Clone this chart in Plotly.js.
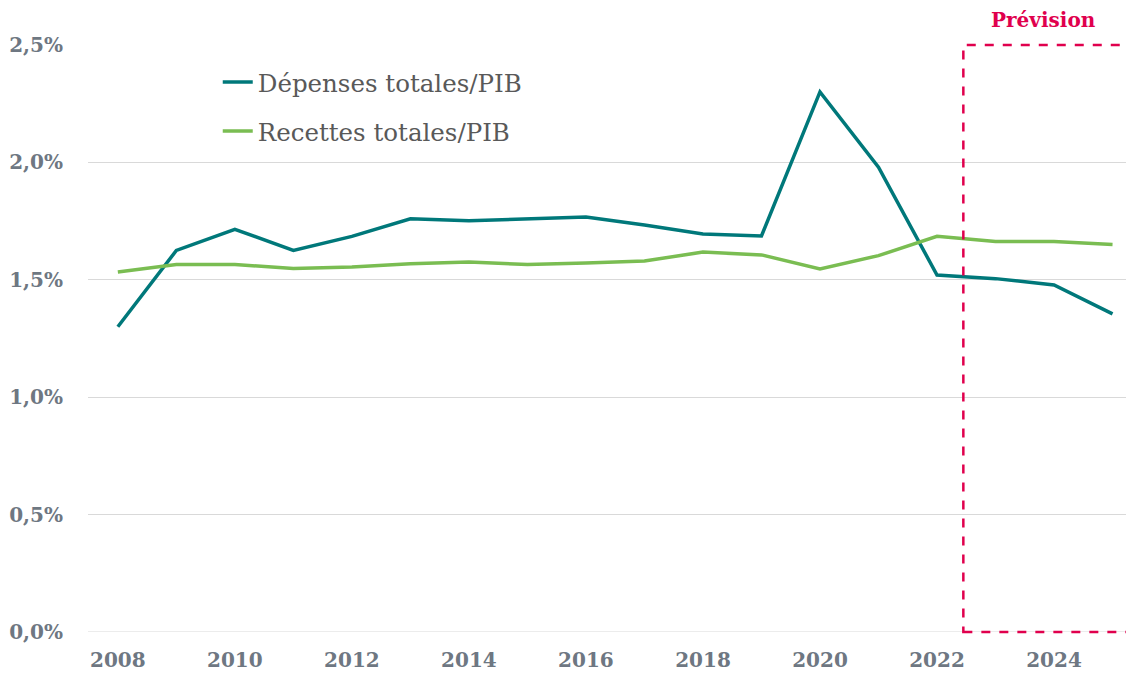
<!DOCTYPE html>
<html>
<head>
<meta charset="utf-8">
<script src="https://cdn.plot.ly/plotly-3.0.1.min.js"></script>
<style>html,body{margin:0;padding:0;background:#fff;}#chart{width:1126px;height:676px;}</style>
</head>
<body>
<div id="chart"></div>
<script>
const years = [2008,2009,2010,2011,2012,2013,2014,2015,2016,2017,2018,2019,2020,2021,2022,2023,2024,2025];
const depenses = [1.30,1.625,1.715,1.625,1.685,1.76,1.752,1.76,1.767,1.733,1.695,1.687,2.30,1.98,1.52,1.505,1.478,1.355];
const recettes = [1.533,1.565,1.565,1.548,1.555,1.568,1.576,1.565,1.572,1.58,1.618,1.606,1.546,1.603,1.685,1.663,1.663,1.65];
const seriesNames = ["Dépenses totales/PIB","Recettes totales/PIB"];
const xTicks = [2008,2010,2012,2014,2016,2018,2020,2022,2024];
const yTicks = [0,0.5,1,1.5,2,2.5];
const yTickLabels = ["0,0%","0,5%","1,0%","1,5%","2,0%","2,5%"];
const forecastStart = 2022.45;
const forecastLabel = "Prévision";

const serif = "DejaVu Serif, Liberation Serif, serif";
const data = [
  {x: years, y: depenses, name: seriesNames[0], type: "scatter", mode: "lines",
   line: {color: "#00787a", width: 3.5}, legendgroup: "a"},
  {x: years, y: recettes, name: seriesNames[1], type: "scatter", mode: "lines",
   line: {color: "#7abd52", width: 3.5}, legendgroup: "b"}
];
const layout = {
  width: 1126, height: 676,
  margin: {l: 88, r: 0, t: 45, b: 44},
  paper_bgcolor: "#fff", plot_bgcolor: "#fff",
  showlegend: true,
  legend: {x: 0.125, y: 0.975, xanchor: "left", yanchor: "top",
    font: {family: serif, size: 24.5, color: "#595959"},
    traceorder: "grouped", tracegroupgap: 14, bgcolor: "rgba(0,0,0,0)"},
  xaxis: {range: [2007.49, 2025.23], tickvals: xTicks, ticktext: xTicks.map(String),
    showgrid: false, zeroline: false, showline: false, ticks: "",
    ticklabelstandoff: 14,
    tickfont: {family: serif, size: 20, color: "#6e7782", weight: "bold"}},
  yaxis: {range: [0, 2.5], tickvals: yTicks, ticktext: yTickLabels,
    showgrid: true, gridcolor: "#d9d9d9", gridwidth: 1, zeroline: false, showline: false, ticks: "",
    ticklabelstandoff: 24,
    tickfont: {family: serif, size: 20, color: "#6e7782", weight: "bold"}},
  shapes: [
    {type: "line", xref: "paper", yref: "y", x0: 0, x1: 1, y0: 0, y1: 0, line: {color: "#d9d9d9", width: 1}},
    {type: "rect", xref: "x", yref: "paper", x0: forecastStart, x1: 2026, y0: 0, y1: 1,
     line: {color: "#e0004d", width: 2.5, dash: "dash"}, fillcolor: "rgba(0,0,0,0)"}
  ],
  annotations: [
    {text: "<b>" + forecastLabel + "</b>", xref: "x", yref: "paper", x: 2023.82, y: 1.043,
     showarrow: false, xanchor: "center", yanchor: "middle",
     font: {family: serif, size: 20, color: "#e0004d"}}
  ]
};
Plotly.newPlot("chart", data, layout, {displayModeBar: false, staticPlot: true});
</script>
</body>
</html>
